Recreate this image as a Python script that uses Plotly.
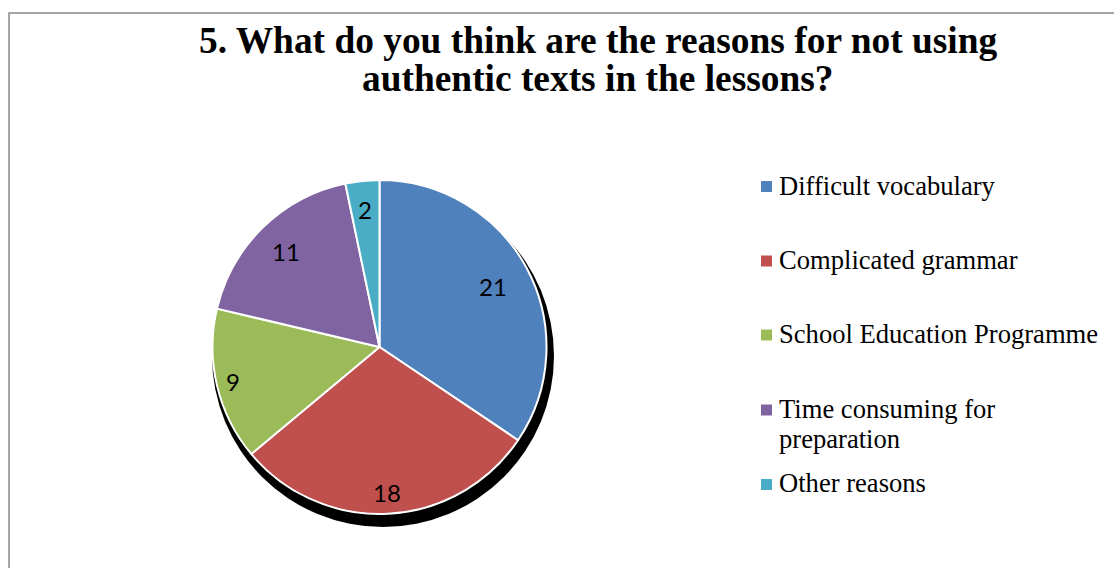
import math
import plotly.graph_objects as go

# Survey answers: reasons for not using authentic texts
categories = [
    "Difficult vocabulary",
    "Complicated grammar",
    "School Education Programme",
    "Time consuming for<br>preparation",
    "Other reasons",
]
counts = [21, 18, 9, 11, 2]
colors = ["#4F81BD", "#C0504D", "#9BBB59", "#8064A2", "#4BACC6"]
title_lines = [
    "5. What do you think are the reasons for not using",
    "authentic texts in the lessons?",
]

W, H = 1114, 568

# pie geometry in pixels
CX, CY, R = 379.5, 347.0, 167.0
# distance of each value label from the centre, as a share of the radius
label_r = [0.77, 0.87, 0.90, 0.80, 0.83]

fig = go.Figure()
fig.add_trace(go.Pie(
    values=counts,
    labels=[c.replace("<br>", " ") for c in categories],
    sort=False,
    direction="clockwise",
    rotation=0,
    marker=dict(colors=colors, line=dict(color="white", width=2)),
    textinfo="none",
    domain=dict(x=[(CX - R) / W, (CX + R) / W], y=[1 - (CY + R) / H, 1 - (CY - R) / H]),
    showlegend=False,
    hoverinfo="label+value",
))

shapes = [
    # chart frame (runs off the right and bottom edge)
    dict(type="rect", xref="paper", yref="paper",
         x0=9 / W, x1=1.02, y0=-0.03, y1=1 - 13 / H,
         line=dict(color="#888888", width=1.5), fillcolor="rgba(0,0,0,0)",
         layer="below"),
    # dark drop shadow behind the pie
    dict(type="circle", xref="paper", yref="paper",
         x0=(383 - 171) / W, x1=(383 + 171) / W,
         y0=1 - (356 + 171) / H, y1=1 - (356 - 171) / H,
         line=dict(width=0), fillcolor="black", layer="below"),
]

annotations = []
for i, line in enumerate(title_lines):
    annotations.append(dict(
        text="<b>%s</b>" % line, xref="paper", yref="paper",
        x=598 / W, y=1 - (40 + 39 * i) / H, xanchor="center", yanchor="middle",
        showarrow=False,
        font=dict(family="Liberation Serif, Times New Roman, serif", size=37.4, color="black"),
    ))

# value labels at the middle angle of each slice (clockwise from 12 o'clock)
total = sum(counts)
cum = 0
for v, fr in zip(counts, label_r):
    mid = (cum + v / 2) / total * 2 * math.pi
    cum += v
    px = CX + math.sin(mid) * R * fr
    py = CY - math.cos(mid) * R * fr
    annotations.append(dict(
        text=str(v), xref="paper", yref="paper", x=px / W, y=1 - py / H,
        xanchor="center", yanchor="middle", showarrow=False,
        font=dict(family="Lato, Open Sans, sans-serif", size=24, color="black"),
    ))

# legend drawn as squares + labels
legend_y = [186.5, 261, 335, 410, 484.5]
for name, col, ly in zip(categories, colors, legend_y):
    shapes.append(dict(type="rect", xref="paper", yref="paper",
                       x0=761 / W, x1=772 / W, y0=1 - (ly + 5.5) / H, y1=1 - (ly - 5.5) / H,
                       line=dict(width=0), fillcolor=col))
    for k, part in enumerate(name.split("<br>")):
        annotations.append(dict(
            text=part, xref="paper", yref="paper", x=777 / W, y=1 - (ly - 1 + 30 * k) / H,
            xanchor="left", yanchor="middle", align="left", showarrow=False,
            font=dict(family="Liberation Serif, Times New Roman, serif", size=26.6, color="black"),
        ))

fig.update_layout(
    width=W, height=H,
    margin=dict(l=0, r=0, t=0, b=0),
    paper_bgcolor="white", plot_bgcolor="white",
    shapes=shapes, annotations=annotations,
)

fig.write_html("out.html")
